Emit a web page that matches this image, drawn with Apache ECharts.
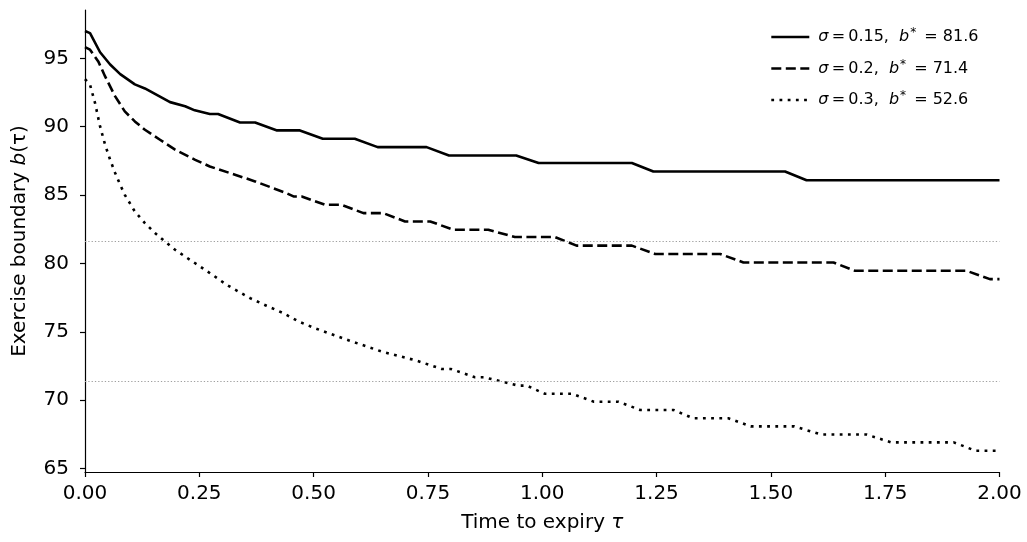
<!DOCTYPE html>
<html>
<head>
<meta charset="utf-8">
<script src="https://cdn.jsdelivr.net/npm/echarts@6/dist/echarts.min.js"></script>
<style>
  html, body { margin: 0; padding: 0; background: #fff; }
  #chart { width: 1027px; height: 542px; }
</style>
</head>
<body>
<div id="chart"></div>
<script>
// boundary curves, tau in years
var tauSig015 = [0, 0.011, 0.033, 0.055, 0.077, 0.109, 0.131, 0.164, 0.186, 0.219, 0.240, 0.273, 0.291, 0.339, 0.372, 0.420, 0.470, 0.520, 0.590, 0.640, 0.747, 0.796, 0.943, 0.992, 1.196, 1.243, 1.531, 1.578, 2.000];
var bSig015 = [97.0, 96.85, 95.45, 94.55, 93.85, 93.1, 92.8, 92.2, 91.8, 91.5, 91.2, 90.93, 90.93, 90.31, 90.31, 89.73, 89.73, 89.12, 89.12, 88.51, 88.51, 87.9, 87.9, 87.35, 87.35, 86.72, 86.72, 86.08, 86.08];

var tauSig02 = [0, 0.011, 0.029, 0.044, 0.066, 0.087, 0.109, 0.131, 0.164, 0.197, 0.241, 0.273, 0.328, 0.372, 0.437, 0.456, 0.474, 0.525, 0.561, 0.609, 0.652, 0.700, 0.755, 0.806, 0.882, 0.940, 1.028, 1.075, 1.196, 1.247, 1.389, 1.440, 1.637, 1.684, 1.928, 1.979, 2.000];
var bSig02 = [95.83, 95.64, 94.78, 93.68, 92.22, 91.12, 90.39, 89.78, 89.05, 88.32, 87.58, 87.09, 86.49, 86.0, 85.19, 84.9, 84.9, 84.29, 84.29, 83.68, 83.68, 83.07, 83.07, 82.46, 82.46, 81.93, 81.93, 81.3, 81.3, 80.69, 80.69, 80.07, 80.07, 79.46, 79.46, 78.85, 78.85];

var tauSig03 = [0, 0.011, 0.022, 0.033, 0.044, 0.055, 0.066, 0.077, 0.087, 0.109, 0.131, 0.153, 0.175, 0.197, 0.219, 0.252, 0.284, 0.310, 0.361, 0.397, 0.434, 0.467, 0.503, 0.576, 0.649, 0.685, 0.725, 0.780, 0.800, 0.853, 0.873, 0.948, 0.966, 1.005, 1.065, 1.113, 1.167, 1.214, 1.287, 1.330, 1.407, 1.456, 1.551, 1.610, 1.709, 1.763, 1.900, 1.947, 2.000];
var bSig03 = [93.49, 93.07, 91.73, 90.02, 88.68, 87.58, 86.61, 85.75, 85.02, 83.8, 82.95, 82.22, 81.6, 81.0, 80.5, 79.77, 79.04, 78.43, 77.46, 76.9, 76.36, 75.75, 75.26, 74.38, 73.55, 73.24, 72.89, 72.28, 72.28, 71.67, 71.67, 71.06, 71.06, 70.47, 70.47, 69.88, 69.88, 69.28, 69.28, 68.67, 68.67, 68.08, 68.08, 67.48, 67.48, 66.91, 66.91, 66.3, 66.3];

var seriesNames = ['sig015', 'sig02', 'sig03'];
var sigmaLabels = ['0.15', '0.2', '0.3'];
var bStar = [81.6, 71.4, 52.6];
var yTicks = [65, 70, 75, 80, 85, 90, 95];

var FONT = 'DejaVu Sans';

function zipPairs(xs, ys) {
  var out = [];
  for (var i = 0; i < xs.length; i++) {
    out.push([xs[i], ys[i]]);
  }
  return out;
}

function legendText(name) {
  var k = seriesNames.indexOf(name);
  return '{i|\u03c3}\u2009=\u2009' + sigmaLabels[k] + ',  {i|b}{sup|*} = ' + bStar[k];
}

var chart = echarts.init(document.getElementById('chart'), null, { renderer: 'canvas' });

var lineDefs = [
  { data: zipPairs(tauSig015, bSig015), type: 'solid' },
  { data: zipPairs(tauSig02, bSig02), type: [10, 4.5] },
  { data: zipPairs(tauSig03, bSig03), type: [2.8, 5.4] }
];

var series = lineDefs.map(function(d, i) {
  var s = {
    name: seriesNames[i],
    type: 'line',
    data: d.data,
    symbol: 'none',
    showSymbol: false,
    smooth: false,
    z: 3,
    lineStyle: { color: '#000', width: 2.6, type: d.type, cap: 'butt' },
    itemStyle: { color: '#000' }
  };
  if (i === 0) {
    // reference levels b* that fall inside the y range
    s.markLine = {
      silent: true,
      symbol: 'none',
      label: { show: false },
      lineStyle: { color: '#a0a0a0', width: 1, type: [1.3, 2] },
      data: bStar.filter(function(v) { return v > 64.74; }).map(function(v) {
        return { yAxis: v };
      })
    };
  }
  return s;
});

var option = {
  animation: false,
  backgroundColor: '#fff',
  textStyle: { fontFamily: FONT },
  grid: { left: 85, right: 27.5, top: 10, bottom: 70, containLabel: false },
  legend: {
    orient: 'vertical',
    left: 770,
    top: 27,
    padding: 0,
    itemWidth: 38,
    itemHeight: 14,
    itemGap: 13.5,
    data: seriesNames,
    formatter: legendText,
    itemStyle: { opacity: 0 },
    lineStyle: { opacity: 1, width: 2.6, color: '#000' },
    textStyle: {
      fontFamily: FONT,
      fontSize: 16,
      color: '#000',
      padding: [0, 0, 0, 4],
      rich: {
        i: { fontFamily: FONT, fontStyle: 'italic', fontSize: 16, color: '#000' },
        sup: { fontFamily: FONT, fontSize: 12, color: '#000', verticalAlign: 'top', padding: [0, 3, 8, 1] }
      }
    }
  },
  xAxis: {
    type: 'value',
    min: 0,
    max: 2,
    interval: 0.25,
    name: 'Time to expiry {i|\u03c4}',
    nameLocation: 'middle',
    nameGap: 41,
    nameTextStyle: {
      fontFamily: FONT,
      fontSize: 20,
      color: '#000',
      rich: { i: { fontFamily: FONT, fontStyle: 'italic', fontSize: 20, color: '#000' } }
    },
    axisLine: { show: true, onZero: false, lineStyle: { color: '#000', width: 1.2 } },
    axisTick: { show: true, length: 5, lineStyle: { color: '#000', width: 1.2 } },
    axisLabel: {
      fontFamily: FONT,
      fontSize: 20,
      color: '#000',
      margin: 12,
      formatter: function(v) { return v.toFixed(2); }
    },
    splitLine: { show: false }
  },
  yAxis: {
    type: 'value',
    min: 64.74,
    max: 98.54,
    name: 'Exercise boundary {i|b}(\u03c4)',
    nameLocation: 'middle',
    nameGap: 55,
    nameRotate: 90,
    nameTextStyle: {
      fontFamily: FONT,
      fontSize: 20,
      color: '#000',
      rich: { i: { fontFamily: FONT, fontStyle: 'italic', fontSize: 20, color: '#000' } }
    },
    axisLine: { show: true, onZero: false, lineStyle: { color: '#000', width: 1.2 } },
    axisTick: { show: true, length: 5, customValues: yTicks, lineStyle: { color: '#000', width: 1.2 } },
    axisLabel: {
      fontFamily: FONT,
      fontSize: 20,
      color: '#000',
      margin: 16,
      customValues: yTicks
    },
    splitLine: { show: false }
  },
  series: series
};

chart.setOption(option);
</script>
</body>
</html>
